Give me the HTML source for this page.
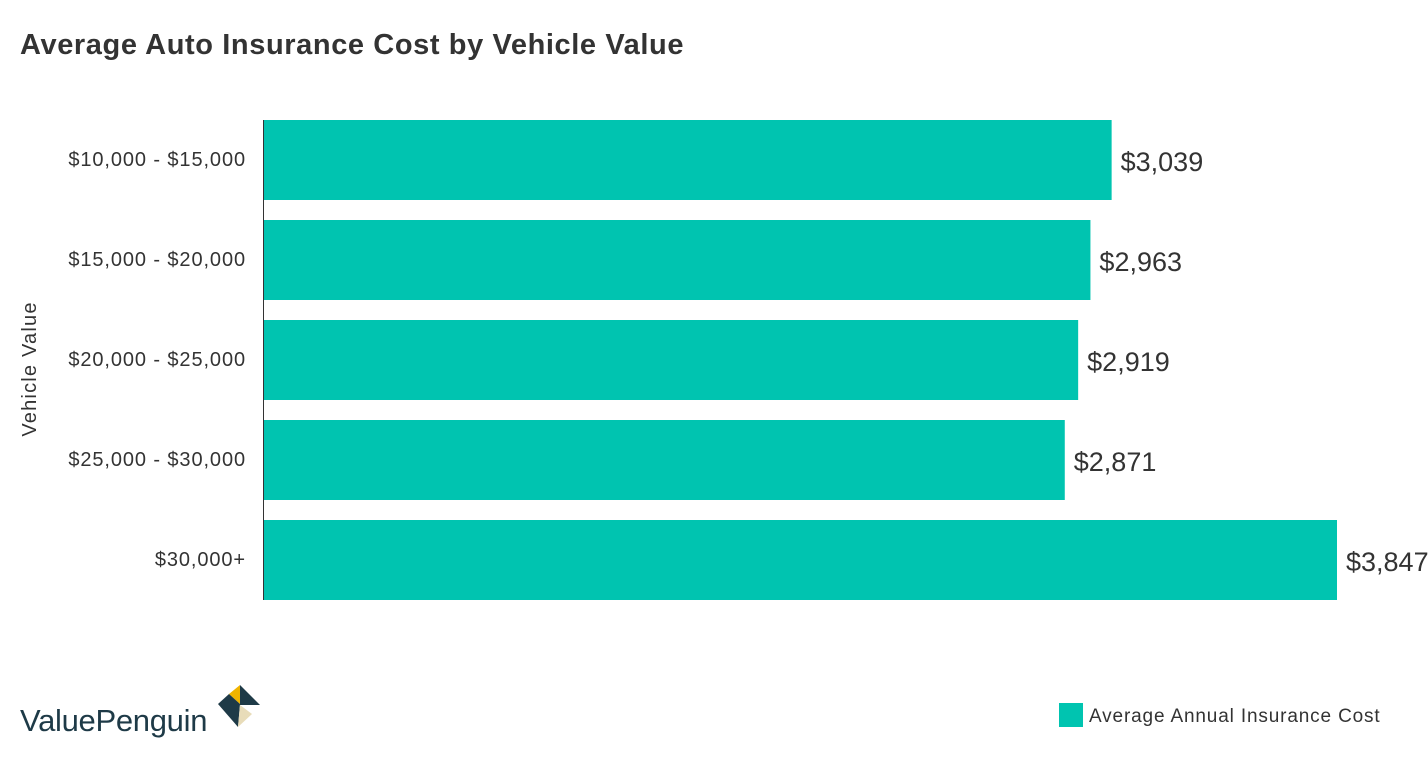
<!DOCTYPE html>
<html><head><meta charset="utf-8"><style>
body{margin:0;width:1428px;height:758px;background:#fff;font-family:"Liberation Sans",sans-serif;position:relative;overflow:hidden}
#title{position:absolute;left:20px;top:29px;font-size:29px;font-weight:bold;color:#333;letter-spacing:0.6px}
</style></head><body>
<div id="title">Average Auto Insurance Cost by Vehicle Value</div>
<svg id="chart" width="1428" height="758" style="position:absolute;left:0;top:0">
<text x="36" y="369" transform="rotate(-90 36 369)" text-anchor="middle" font-size="20" letter-spacing="1.2" fill="#333">Vehicle Value</text>
<line x1="263.5" y1="120" x2="263.5" y2="600" stroke="#333" stroke-width="1"/>
<g id="bars"></g>
<g>
<rect x="1059" y="703" width="24" height="24" fill="#00c4b0"/>
<text x="1089" y="722" font-size="19" letter-spacing="0.85" fill="#333">Average Annual Insurance Cost</text>
</g>
<g>
<text x="20" y="731" font-size="31" letter-spacing="-0.3" fill="#1e3a47">ValuePenguin</text>
<polygon points="240,685 229,694 240,704" fill="#f0b400"/>
<polygon points="229,694 218,704 240,704" fill="#1e3a47"/>
<polygon points="240,685 260,705 240,705" fill="#1e3a47"/>
<polygon points="218,704 240,704 238,727" fill="#1e3a47"/>
<polygon points="240,705 252,714 238,727" fill="#e8dcb9"/>
</g>
</svg>
<script>
const categories=["$10,000 - $15,000","$15,000 - $20,000","$20,000 - $25,000","$25,000 - $30,000","$30,000+"];
const values=[3039,2963,2919,2871,3847];
const valueLabels=["$3,039","$2,963","$2,919","$2,871","$3,847"];
const x0=264,xScale=v=>x0+v*(1073/3847);
const yBand=i=>120+i*100;
const g=document.getElementById('bars');
const ns="http://www.w3.org/2000/svg";
categories.forEach((c,i)=>{
 const r=document.createElementNS(ns,'rect');
 r.setAttribute('x',x0);r.setAttribute('y',yBand(i));r.setAttribute('width',xScale(values[i])-x0);r.setAttribute('height',80);r.setAttribute('fill','#00c4b0');
 
 
 g.appendChild(r);
 const t=document.createElementNS(ns,'text');
 t.setAttribute('x',246);t.setAttribute('y',yBand(i)+46);t.setAttribute('text-anchor','end');t.setAttribute('font-size','20');t.setAttribute('letter-spacing','0.9');t.setAttribute('fill','#333');t.textContent=c;
 
 
 g.appendChild(t);
 const v=document.createElementNS(ns,'text');
 v.setAttribute('x',xScale(values[i])+9);v.setAttribute('y',yBand(i)+51);v.setAttribute('font-size','27');v.setAttribute('fill','#333');v.textContent=valueLabels[i];
 
 
 g.appendChild(v);
});
</script>
</body></html>
